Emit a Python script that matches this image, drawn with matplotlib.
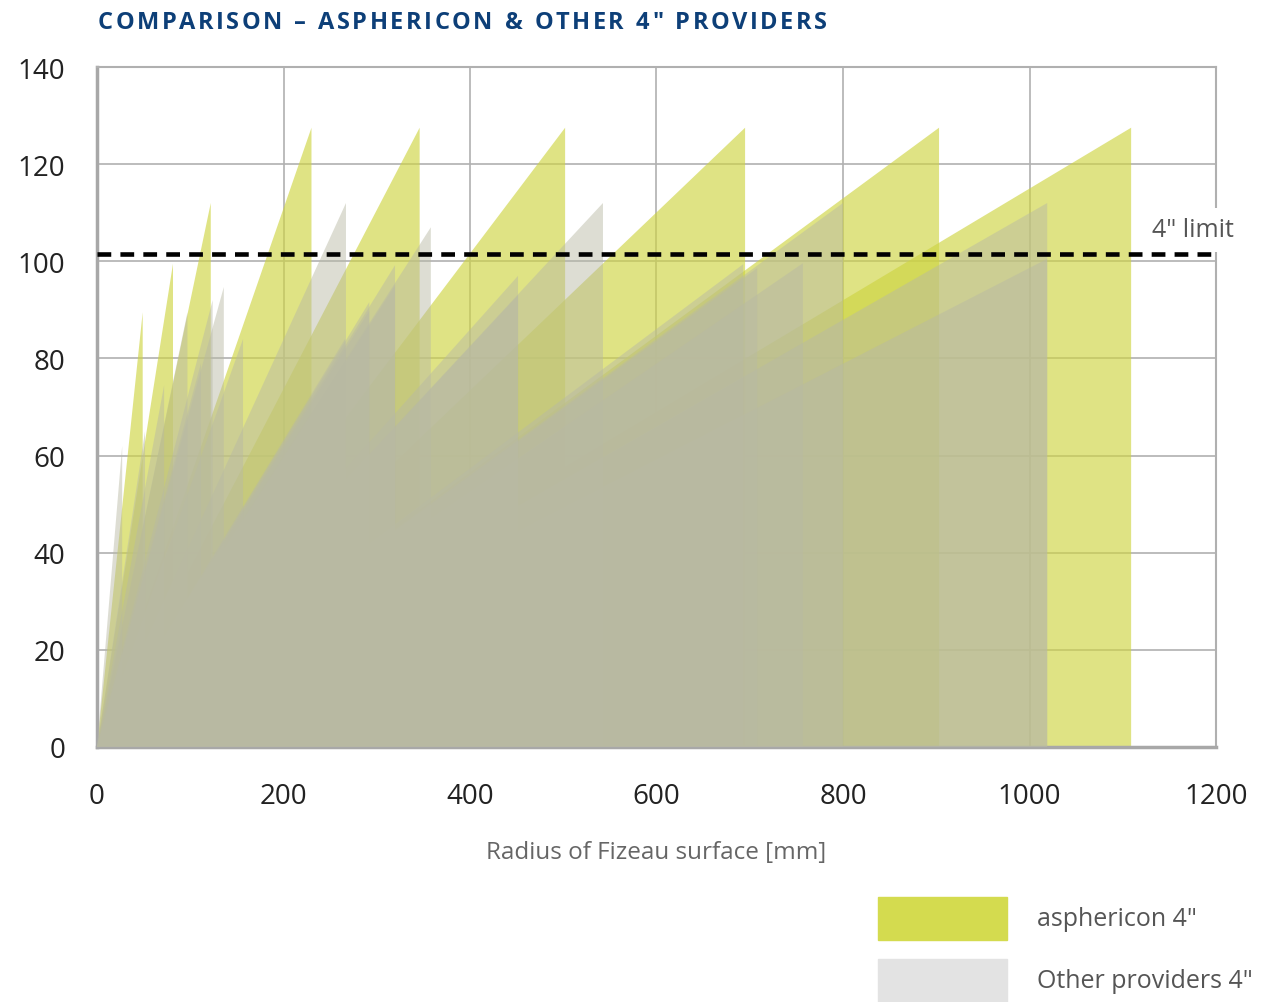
import matplotlib
matplotlib.use("Agg")
import matplotlib.pyplot as plt
from matplotlib.patches import Rectangle

# ---- data (radius of Fizeau surface [mm], testable diameter [mm]) ----
asph_R = [1109, 903, 695, 502, 346, 230, 122, 81.5, 49]
asph_D = [127.5, 127.5, 127.5, 127.5, 127.5, 127.5, 112, 99.5, 89.5]

other_R = [1019, 1019, 800, 757, 708, 693, 542.6, 451.5, 451.5, 358, 319.6, 319.6,
           292, 292, 267, 266, 156.6, 136, 124, 111.5, 97, 72, 51.5, 27]
other_D = [112, 100.5, 112, 99.6, 98.6, 99.4, 112, 97, 93, 107, 99.2, 95,
           91.6, 89.8, 112, 84, 84, 94.7, 92, 79, 89.5, 74.5, 65, 62]

limit_4in = 101.6
x_ticks = [0, 200, 400, 600, 800, 1000, 1200]
y_ticks = [0, 20, 40, 60, 80, 100, 120, 140]

title = 'COMPARISON \u2013 ASPHERICON & OTHER 4" PROVIDERS'
x_label = "Radius of Fizeau surface [mm]"
legend_labels = ['asphericon 4"', 'Other providers 4"']
limit_label = '4" limit'

# ---- style ----
YEL = (206/255, 212/255, 67/255)
GRY = (184/255, 185/255, 164/255)
GRID = "#b0b0b0"
plt.rcParams['font.family'] = ['Open Sans', 'DejaVu Sans']

W, H = 1261, 1003
fig = plt.figure(figsize=(W/100, H/100), dpi=100)
ax = fig.add_axes([97/W, 1 - 748/H, (1216-97)/W, (748-68)/H])

for R, D in zip(asph_R, asph_D):
    ax.fill([0, R, R], [0, D, 0], color=YEL, alpha=0.65, lw=0, zorder=2)
for R, D in zip(other_R, other_D):
    ax.fill([0, R, R], [0, D, 0], color=GRY, alpha=0.48, lw=0, zorder=3)

ax.axhline(limit_4in, color="black", lw=3.3, dashes=(3.0, 2.0), zorder=5)

ax.set_xlim(0, 1200)
ax.set_ylim(0, 140)
ax.set_xticks(x_ticks)
ax.set_yticks(y_ticks)
ax.grid(True, color=GRID, lw=1.2, zorder=1)
ax.set_axisbelow(True)
ax.tick_params(length=0, labelsize=20, labelcolor="#222222")
ax.tick_params(axis="x", pad=25)
ax.tick_params(axis="y", pad=23)
for side in ["left", "bottom"]:
    ax.spines[side].set_color("#a8a8a8")
    ax.spines[side].set_linewidth(2.5)
for side in ["top", "right"]:
    ax.spines[side].set_color(GRID)
    ax.spines[side].set_linewidth(1.5)

ax.set_xlabel(x_label, fontsize=17.5, color="#666666", labelpad=22)

ax.text((1193-97)/1119, limit_4in + 2.3, limit_label, transform=ax.get_yaxis_transform(),
        ha="center", va="bottom", fontsize=18, color="#555555", zorder=6,
        bbox=dict(facecolor="white", edgecolor="none", pad=7))

# title with letter spacing
fig.canvas.draw()
renderer = fig.canvas.get_renderer()
tkw = dict(fontsize=17, fontweight="bold", color="#0d3f78", va="center", ha="left")
widths = []
for ch in title:
    t = fig.text(0, 0, ch if ch != " " else "\u00a0", **tkw)
    widths.append(t.get_window_extent(renderer).width if ch != " " else 0.3 * 17 * 100 / 72)
    t.remove()
target = 827 - 98
extra = (target - sum(widths)) / (len(title) - 1)
x = 98.0
for ch, w in zip(title, widths):
    if ch != " ":
        fig.text(x / W, 1 - 23 / H, ch, **tkw)
    x += w + extra

# legend
leg_cols = [(212/255, 219/255, 79/255), (227/255, 227/255, 227/255)]
for i, (lab, col) in enumerate(zip(legend_labels, leg_cols)):
    y0 = 1 - (941 + i * 62) / H
    fig.patches.append(Rectangle((878/W, y0), 129/W, 43/H, transform=fig.transFigure, color=col))
    fig.text(1037/W, y0 + 21/H, lab, ha="left", va="center", fontsize=18, color="#555555")

fig.savefig("out.png", dpi=100)
